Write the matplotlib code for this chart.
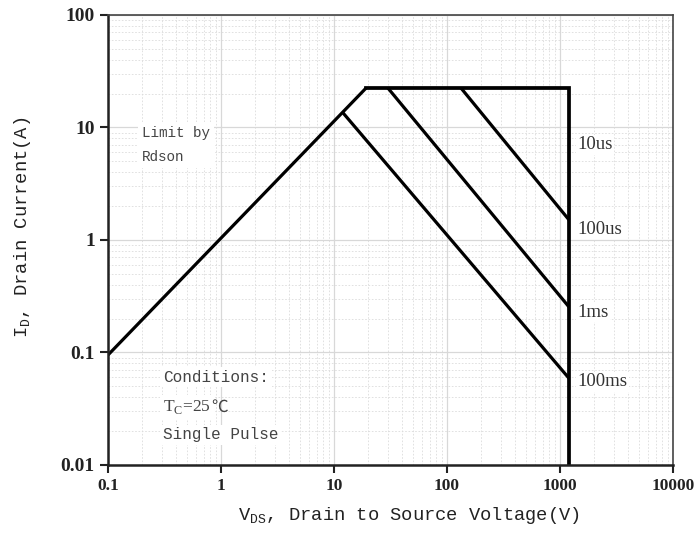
import matplotlib
matplotlib.use("Agg")
import matplotlib.pyplot as plt
from matplotlib.ticker import FixedLocator, LogLocator, NullFormatter
import numpy as np

# safe operating area
rdson_v = [0.1, 19.2]
rdson_i = [0.095, 22.4]
limit_v = [19.2, 1200, 1200]
limit_i = [22.4, 22.4, 0.01]
pulse_lines = {
    "100us": ([133, 1200], [22.4, 1.51]),
    "1ms": ([30, 1200], [22.4, 0.254]),
    "100ms": ([12.0, 1200], [13.5, 0.059]),
}
pulse_labels = ["10us", "100us", "1ms", "100ms"]
label_i = [7.0, 1.25, 0.229, 0.0547]

xticks = [0.1, 1, 10, 100, 1000, 10000]
xtick_labels = ["0.1", "1", "10", "100", "1000", "10000"]
yticks = [0.01, 0.1, 1, 10, 100]
ytick_labels = ["0.01", "0.1", "1", "10", "100"]

mono = ["Liberation Mono", "DejaVu Sans"]
serif = ["Liberation Serif", "DejaVu Serif"]
txt_color = "#444444"

fig = plt.figure(figsize=(6.96, 5.33), dpi=100)
ax = fig.add_axes([0.1552, 0.1276, 0.8118, 0.8443])
ax.set_xscale("log")
ax.set_yscale("log")
ax.set_xlim(0.1, 10000)
ax.set_ylim(0.01, 100)

ax.grid(True, which="major", color="#d8d8d8", lw=0.9, ls="-")
ax.grid(True, which="minor", color="#dcdcdc", lw=0.6, ls=(0, (2, 2)))

lw = 2.3
ax.plot(rdson_v, rdson_i, color="black", lw=lw, solid_capstyle="butt")
ax.plot(limit_v, limit_i, color="black", lw=lw + 0.4, solid_joinstyle="miter")
for name, (v, i) in pulse_lines.items():
    ax.plot(v, i, color="black", lw=lw, solid_capstyle="butt")

for lab, yi in zip(pulse_labels, label_i):
    ax.text(1420, yi, lab, fontsize=13.5, family=serif, color="#333333",
            ha="left", va="center",
            bbox=dict(facecolor="white", edgecolor="none", pad=1))

ax.text(0.2, 7.0, "Limit by\nRdson", fontsize=10.3, family=mono, color=txt_color,
        linespacing=1.85, va="center", ha="left",
        bbox=dict(facecolor="white", edgecolor="none", pad=3))

cond_x = 0.307
ax.text(cond_x, 0.0605, "Conditions:", fontsize=11.5, family=mono, color=txt_color,
        va="center", ha="left",
        bbox=dict(facecolor="white", edgecolor="none", pad=2))
tc = ax.text(cond_x, 0.0328, r"T$_\mathregular{C}$=25", fontsize=12.5, family=serif,
             color=txt_color, va="center", ha="left",
             bbox=dict(facecolor="white", edgecolor="none", pad=2))
ax.annotate("℃", xy=(1, 0.5), xycoords=tc, xytext=(0.5, 0), textcoords="offset points",
            fontsize=12, family=["Noto Sans CJK SC", "DejaVu Sans"], color=txt_color,
            va="center", ha="left")
ax.text(cond_x, 0.0185, "Single Pulse", fontsize=11.5, family=mono, color=txt_color,
        va="center", ha="left",
        bbox=dict(facecolor="white", edgecolor="none", pad=2))

ax.xaxis.set_major_locator(FixedLocator(xticks))
ax.set_xticklabels(xtick_labels)
ax.yaxis.set_major_locator(FixedLocator(yticks))
ax.set_yticklabels(ytick_labels)
ax.xaxis.set_minor_locator(LogLocator(base=10, subs=np.arange(2, 10)))
ax.yaxis.set_minor_locator(LogLocator(base=10, subs=np.arange(2, 10)))
ax.xaxis.set_minor_formatter(NullFormatter())
ax.yaxis.set_minor_formatter(NullFormatter())
ax.tick_params(which="minor", length=0)
ax.tick_params(which="major", direction="out", length=6, width=1.5, color="#222222")
ax.tick_params(axis="x", which="major", top=False, bottom=True, labelsize=12.5)
ax.tick_params(axis="y", which="major", right=False, left=True, labelsize=14)
for lab in ax.get_xticklabels() + ax.get_yticklabels():
    lab.set_family(serif)
    lab.set_fontweight("bold")
    lab.set_color("#222222")

for side in ["left", "bottom"]:
    ax.spines[side].set_linewidth(1.8)
    ax.spines[side].set_color("#222222")
for side in ["top", "right"]:
    ax.spines[side].set_linewidth(1.2)
    ax.spines[side].set_color("#444444")

ax.set_xlabel(r"V$_\mathregular{DS}$, Drain to Source Voltage(V)", fontsize=13.5,
              family=mono, color="#222222")
ax.set_ylabel(r"I$_\mathregular{D}$, Drain Current(A)", fontsize=13.5,
              family=mono, color="#222222")
ax.xaxis.set_label_coords(0.533, -0.088)
ax.yaxis.set_label_coords(-0.133, 0.527)

fig.savefig("out.png", dpi=100)
